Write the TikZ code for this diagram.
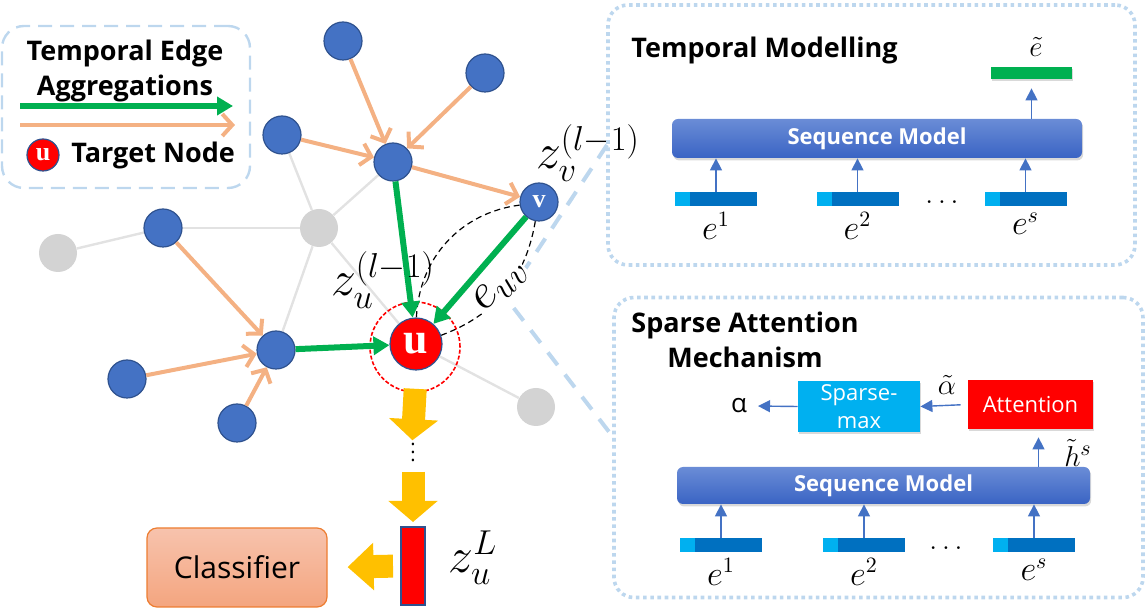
\documentclass[tikz,border=0pt]{standalone}
\usepackage{fontspec}
\setmainfont{Open Sans}
\newfontfamily\nodefont{Liberation Serif}
\usepackage{tikz}
\usetikzlibrary{arrows.meta,positioning,shadows,backgrounds}

\definecolor{nodeblue}{HTML}{4472C4}
\definecolor{nodeedge}{HTML}{2F528F}
\definecolor{aggreen}{HTML}{00B050}
\definecolor{agorange}{HTML}{F4B183}
\definecolor{edgegrey}{HTML}{E2E2E2}
\definecolor{nodegrey}{HTML}{D3D3D3}
\definecolor{paleblue}{HTML}{BDD7EE}
\definecolor{barblue}{HTML}{0070C0}
\definecolor{barcyan}{HTML}{00B0F0}
\definecolor{blockyellow}{HTML}{FFC000}
\definecolor{seqtop}{HTML}{6A8CD6}
\definecolor{seqbot}{HTML}{3A64C4}
\definecolor{clstop}{HTML}{F7C3AD}
\definecolor{clsbot}{HTML}{F4A57F}
\definecolor{clsedge}{HTML}{ED7D31}

\begin{document}
\begin{tikzpicture}[x=0.5pt, y=-0.5pt,
  every node/.append style={align=center},
  bn/.style={circle, draw=nodeedge, line width=0.6pt, fill=nodeblue, minimum size=19pt, inner sep=0pt},
  gn/.style={circle, fill=nodegrey, minimum size=19pt, inner sep=0pt},
  tn/.style={circle, draw=nodeedge, line width=0.6pt, fill=red, text=white, inner sep=0pt},
  gl/.style={draw=edgegrey, line width=1.2pt},
  oarr/.style={draw=agorange, line width=2pt, -{Straight Barb[length=5pt, width=11pt]}},
  garr/.style={draw=aggreen, line width=3pt, -{Triangle[length=8pt, width=9pt]}},
  yarr/.style={draw=blockyellow, line width=11.5pt, -{Triangle[length=10.5pt, width=24pt]}},
  sarr/.style={draw=nodeblue, line width=0.7pt, -{Triangle[length=6pt, width=6pt]}},
  darc/.style={draw=black, line width=0.6pt, dash pattern=on 3pt off 2pt},
  callout/.style={draw=paleblue, line width=2pt, dash pattern=on 8pt off 6pt},
  panel/.style={draw=paleblue, line width=1.8pt, dash pattern=on 1.8pt off 1.8pt, rounded corners=10pt},
  seqm/.style={rounded corners=3pt, top color=seqtop, bottom color=seqbot, text=white,
    font=\bfseries\fontsize{11}{13}\selectfont, drop shadow={shadow xshift=0.6pt, shadow yshift=-1.2pt, opacity=0.3}},
  ebar/.style={fill=barblue, minimum width=41pt, minimum height=7pt, inner sep=0pt,
    path picture={\fill[barcyan] (path picture bounding box.south west) rectangle ([xshift=7.5pt]path picture bounding box.north west);}},
  elab/.style={font=\fontsize{16}{18}\selectfont, inner sep=1pt},
  zlab/.style={font=\fontsize{24}{28}\selectfont},
  ttl/.style={font=\bfseries\fontsize{13.5}{17.5}\selectfont}
]
\useasboundingbox (0,0) rectangle (1146,608);

% legend
\node[draw=paleblue, line width=1.2pt, dash pattern=on 7pt off 4pt, rounded corners=11pt,
  minimum width=124pt, minimum height=81pt] (legend) at (126,107) {};
\node[ttl] (legtitle) at (125,71) {Temporal Edge\\Aggregations};
\coordinate (lga) at (20,106);
\coordinate (lgb) at (233,106);
\coordinate (lgc) at (20,125);
\coordinate (lgd) at (235,125);
\draw[garr] (lga) -- (lgb);
\draw[oarr] (lgc) -- (lgd);
\node[tn, minimum size=16pt, font=\nodefont\bfseries\fontsize{13}{13}\selectfont] (legu) at (43,155) {u};
\node[ttl, anchor=west, inner sep=0pt] (legtxt) at (71,155) {Target Node};

% graph
\node[bn] (a1) at (343,41) {};
\node[bn] (a2) at (485,73) {};
\node[bn] (a3) at (282,135) {};
\node[bn] (a4) at (393,162) {};
\node[bn, text=white, font=\nodefont\bfseries\fontsize{13}{13}\selectfont] (v) at (539,202) {v};
\node[gn] (g1) at (319,228) {};
\node[bn] (a5) at (163,228) {};
\node[gn] (g0) at (58,253) {};
\node[tn, minimum size=26pt, font=\nodefont\bfseries\fontsize{22}{22}\selectfont] (u) at (416,344) {u};
\node[circle, draw=red, line width=0.8pt, dash pattern=on 2pt off 1pt, minimum size=45pt] (ring) at (415,347) {};
\node[bn] (a6) at (276,350) {};
\node[bn] (a7) at (127,379) {};
\node[bn] (a8) at (237,423) {};
\node[gn] (g2) at (536,407) {};

\coordinate (ctop) at (607,145);
\coordinate (cmid) at (506,298);
\coordinate (cbot) at (613,437);

\begin{scope}[on background layer]
\draw[gl] (g0) -- (a5);
\draw[gl] (a5) -- (g1);
\draw[gl] (a3) -- (g1);
\draw[gl] (g1) -- (a4);
\draw[gl] (g1) -- (a6);
\draw[gl] (g1) -- (u);
\draw[gl] (u) -- (g2);
\draw[callout] (ctop) -- (cmid) -- (cbot);
\draw[darc] (v) to[bend right=40] (u);
\draw[darc] (v) to[bend left=30] (u);
\node[zlab, rotate=45, fill=white, inner sep=0pt] (euv) at (501,286) {$e_{uv}$};
\end{scope}

\draw[oarr] (a1) -- (a4);
\draw[oarr] (a2) -- (a4);
\draw[oarr] (a3) -- (a4);
\draw[oarr] (a4) -- (v);
\draw[oarr] (a5) -- (a6);
\draw[oarr] (a7) -- (a6);
\draw[oarr] (a8) -- (a6);
\draw[garr] (a4) -- (u);
\draw[garr] (v) -- (u);
\draw[garr] (a6) -- (u);

\node[zlab] (zul) at (383,280) {$z_u^{(l-1)}$};
\node[zlab] (zvl) at (588,153) {$z_v^{(l-1)}$};

% readout
\node[inner sep=0pt] (vd) at (413,446) {$\vdots$};
\node[fill=red, draw=nodeedge, line width=1pt, minimum width=12pt, minimum height=39pt, inner sep=0pt] (zu) at (413,566) {};
\node[zlab] (zuL) at (473,558) {$z_u^L$};
\node[rounded corners=5pt, top color=clstop, bottom color=clsbot, draw=clsedge,
  line width=0.6pt, minimum width=90pt, minimum height=39.5pt, font=\fontsize{15}{15}\selectfont] (cls) at (237,567.5) {Classifier};
\draw[yarr, shorten <=-2pt, shorten >=-5pt] (ring.south) -- (vd.north);
\draw[yarr, shorten <=5pt, shorten >=2pt] (vd.south) -- (zu.north);
\draw[yarr, -{Triangle[length=13pt, width=23pt]}, shorten <=3.5pt, shorten >=10pt] (zu.west) -- (cls.east);

% temporal modelling
\node[panel, minimum width=263.5pt, minimum height=130pt] (tpanel) at (871.5,135) {};
\node[ttl, anchor=west, inner sep=0pt] (ttop) at (631,50) {Temporal Modelling};
\node[seqm, minimum width=205pt, minimum height=19.5pt] (seqa) at (877,138.5) {Sequence Model};
\node[ebar] (ta1) at (716,199) {};
\node[ebar] (ta2) at (857.5,199) {};
\node[ebar] (ta3) at (1025.5,199) {};
\node[elab, below=2pt of ta1] (tl1) {$e^1$};
\node[elab, below=2pt of ta2] (tl2) {$e^2$};
\node[elab, below=2pt of ta3] (tl3) {$e^s$};
\node[font=\fontsize{14}{14}\selectfont] (tdots) at (942,202) {$\dots$};
\node[fill=aggreen, minimum width=40.5pt, minimum height=6pt, inner sep=0pt,
  drop shadow={shadow xshift=0.6pt, shadow yshift=-1.2pt, opacity=0.3}] (etil) at (1031.5,73) {};
\node[font=\fontsize{15}{15}\selectfont] (etl) at (1036,47) {$\tilde{e}$};
\draw[sarr] (ta1.north) -- (ta1.north |- seqa.south);
\draw[sarr] (ta2.north) -- (ta2.north |- seqa.south);
\draw[sarr] (ta3.north) -- (ta3.north |- seqa.south);
\draw[sarr, shorten >=4.5pt] (etil.south |- seqa.north) -- (etil.south);

% sparse attention
\node[panel, minimum width=264.5pt, minimum height=150pt] (bpanel) at (878.5,447.5) {};
\node[ttl] (btitle) at (745,340) {Sparse Attention\\Mechanism};
\node[fill=barcyan, text=white, minimum width=61pt, minimum height=25.5pt, inner sep=0pt,
  font=\fontsize{11}{14}\selectfont, drop shadow={shadow xshift=0.6pt, shadow yshift=-1.2pt, opacity=0.3}] (smax) at (859,406.5) {Sparse-\\max};
\node[fill=red, text=white, minimum width=62.5pt, minimum height=24.5pt, inner sep=0pt,
  font=\fontsize{11}{13}\selectfont, drop shadow={shadow xshift=0.6pt, shadow yshift=-1.2pt, opacity=0.3}] (attn) at (1030.5,404.5) {Attention};
\node[font=\fontsize{13}{13}\selectfont] (alpha) at (739,406) {α};
\node[font=\fontsize{15}{15}\selectfont] (atil) at (947,385) {$\tilde{\alpha}$};
\node[seqm, minimum width=206.5pt, minimum height=18.5pt] (seqb) at (883.5,485.5) {Sequence Model};
\node[font=\fontsize{15}{15}\selectfont] (htil) at (1078,453) {$\tilde{h}^s$};
\node[ebar] (sa1) at (721,545) {};
\node[ebar] (sa2) at (864,545) {};
\node[ebar] (sa3) at (1034,545) {};
\node[elab, below=2pt of sa1] (sl1) {$e^1$};
\node[elab, below=2pt of sa2] (sl2) {$e^2$};
\node[elab, below=2pt of sa3] (sl3) {$e^s$};
\node[font=\fontsize{14}{14}\selectfont] (sdots) at (946,548) {$\dots$};
\draw[sarr] (sa1.north) -- (sa1.north |- seqb.south);
\draw[sarr] (sa2.north) -- (sa2.north |- seqb.south);
\draw[sarr] (sa3.north) -- (sa3.north |- seqb.south);
\draw[sarr, shorten >=4pt] ([xshift=4pt]attn.south |- seqb.north) -- ([xshift=4pt]attn.south);
\draw[sarr, shorten <=3.5pt] (attn.west) -- (smax.east);
\draw[sarr, shorten >=2pt] (smax.west) -- (alpha.east);
\end{tikzpicture}
\end{document}
